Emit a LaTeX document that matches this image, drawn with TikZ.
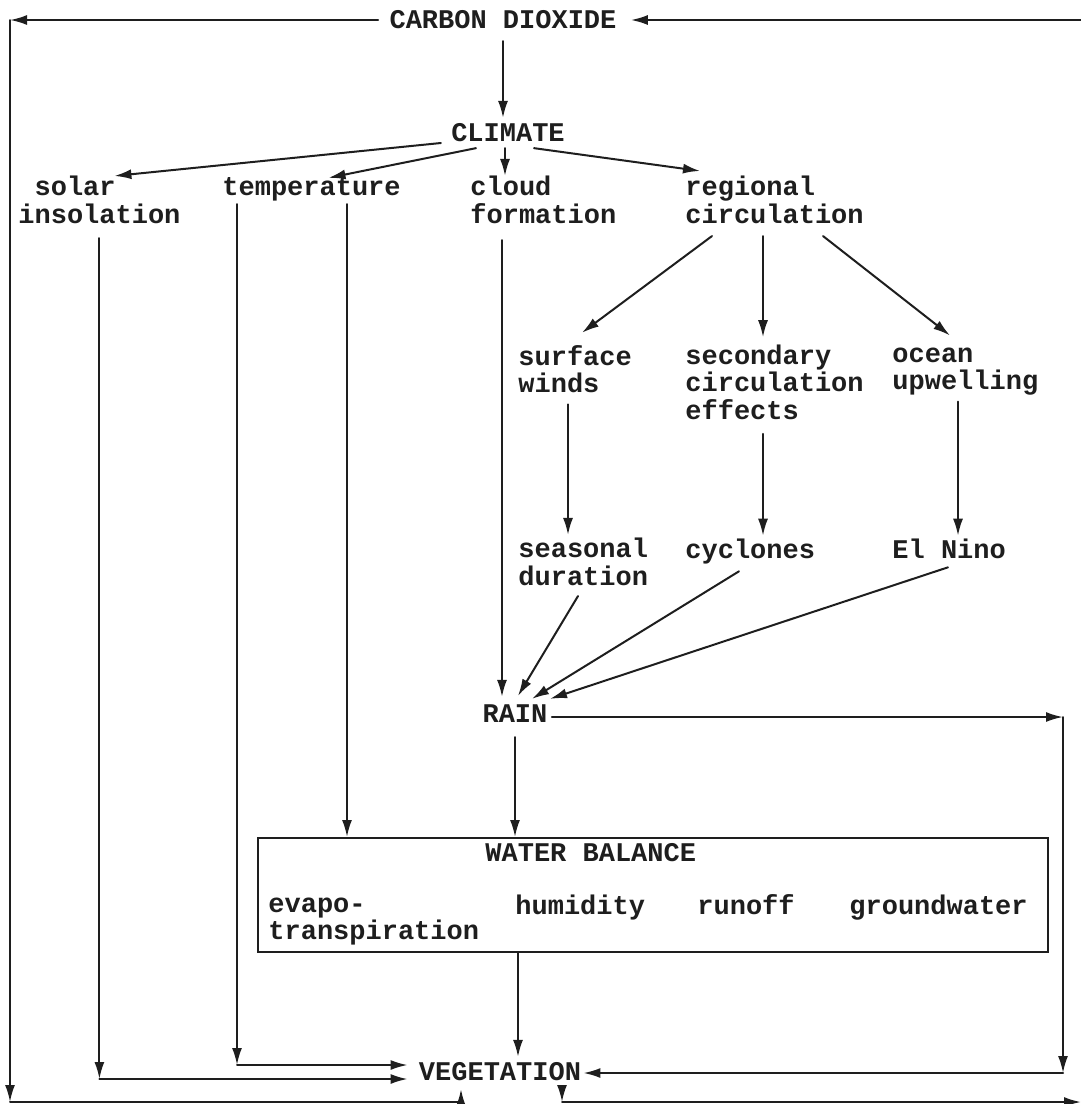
\documentclass[tikz,border=0pt]{standalone}
\usepackage{fontspec}
\usepackage{tikz}
\usetikzlibrary{calc,arrows.meta}
\newfontfamily\typew{Liberation Mono}
\definecolor{ink}{HTML}{1E1E1E}
\newcommand\labfont{\typew\bfseries\fontsize{13.5pt}{13.75pt}\selectfont}
\tikzset{
  lab/.style={text=ink, font=\labfont, inner sep=0pt,
    execute at begin node=\strut, execute at end node=\strut},
  labl/.style={lab, align=left, anchor=west},
  link/.style={draw=ink, line width=1pt, line cap=round, line join=round},
  flow/.style={link, -{Latex[length=8.5pt,width=5pt]}},
  frame/.style={draw=ink, line width=1pt, minimum width=395pt, minimum height=57pt, inner sep=0pt},
}

\begin{document}
\begin{tikzpicture}[x=0.5pt, y=-0.5pt]
  \useasboundingbox (0,0) rectangle (1081,1104);
  % labels
  \node[lab] (co2) at (503,23) {CARBON DIOXIDE};
  \node[lab] (climate) at (508,136) {CLIMATE};
  \node[labl] (solar) at (18,204) {\phantom{s}solar\\insolation};
  \node[labl] (temp) at (222,190) {temperature};
  \node[labl] (cloud) at (470,204) {cloud\\formation};
  \node[labl] (regional) at (685,204) {regional\\circulation};
  \node[labl] (surface) at (518,373) {surface\\winds};
  \node[labl] (secondary) at (685,386) {secondary\\circulation\\effects};
  \node[labl] (ocean) at (892,373) {ocean\\upwelling};
  \node[labl] (seasonal) at (518,566) {seasonal\\duration};
  \node[labl] (cyclones) at (685,553) {cyclones};
  \node[labl] (elnino) at (892,553) {El Nino};
  \node[lab] (rain) at (515,717) {RAIN};
  \node[frame] (wb) at (653,895) {};
  \node[labl] (wbtitle) at (485,856) {WATER BALANCE};
  \node[labl] (evapo) at (268,923) {evapo-\\transpiration};
  \node[labl] (humid) at (515,909) {humidity};
  \node[labl] (runoff) at (697,909) {runoff};
  \node[labl] (ground) at (849,909) {groundwater};
  \node[lab] (veg) at (500,1075) {VEGETATION};

  % corners
  \coordinate (cnw) at (10,20);
  \coordinate (csw) at (10,1102);
  \coordinate (cne) at (1081,20);
  \coordinate (cse) at (1081,1102);
  \coordinate (rse) at (1063,1073);
  \coordinate (rne) at (rain.east -| rse);
  \coordinate (tc) at (237,1065);
  \coordinate (sc) at (99,1079);

  % climate tree
  \draw[flow, shorten <=2pt, shorten >=2pt] (co2.south) -- (co2.south |- climate.north);
  \draw[flow] ([xshift=-5pt,yshift=-3.5pt]climate.west) -- ([xshift=7.5pt]solar.north);
  \draw[flow] ([xshift=-16pt,yshift=1pt]climate.south) -- ([xshift=8.5pt,yshift=-1pt]temp.north);
  \draw[flow] ([xshift=-1.5pt,yshift=1pt]climate.south) -- ([xshift=17.5pt]cloud.north west);
  \draw[flow] ([xshift=13pt,yshift=1pt]climate.south) -- ([xshift=7.5pt,yshift=2.5pt]regional.north west);
  \draw[flow] ([xshift=13.5pt,yshift=-2pt]regional.south west) -- ([xshift=32pt,yshift=6pt]surface.north west);
  \draw[flow] ([xshift=39pt,yshift=-2pt]regional.south west) -- ([xshift=39pt,yshift=3.5pt]secondary.north west);
  \draw[flow] ([xshift=-20.5pt,yshift=-2pt]regional.south east) -- ([xshift=29pt,yshift=6pt]ocean.north west);
  \foreach \a/\b/\s/\d in {surface/seasonal/25pt/-1.5pt, secondary/cyclones/39pt/-3pt, ocean/elnino/33pt/-1.5pt}
    \draw[flow] ([xshift=\s,yshift=\d]\a.south west) -- ([xshift=\s,yshift=1.5pt]\b.north west);

  % into rain
  \coordinate (rA) at ($(rain.north)+(-13,-6)$);
  \coordinate (rB) at ($(rain.north)+(3,-7)$);
  \coordinate (rC) at ($(rain.north)+(17,-4)$);
  \coordinate (rD) at ($(rain.north)+(35,-4)$);
  \draw[flow] ([xshift=16pt,yshift=-4pt]cloud.south west) -- (rA);
  \draw[flow] ([xshift=30pt,yshift=-1pt]seasonal.south west) -- (rB);
  \draw[flow] ([xshift=27pt,yshift=-2pt]cyclones.south west) -- (rC);
  \draw[flow] ([xshift=28pt]elnino.south west) -- (rD);

  % rain onwards
  \draw[flow, shorten <=3pt] (rain.south) -- (rain.south |- wb.north);
  \draw[flow, shorten <=2pt] (rain.east) -- (rne);
  \draw[flow] (rne) -- (rse);
  \draw[flow, shorten >=1pt] (rse) -- (veg.east |- rse);

  % temperature and solar
  \coordinate (t1) at ([xshift=7.5pt]temp.south west);
  \coordinate (t2) at ([xshift=62.5pt]temp.south west);
  \draw[flow] (t1) -- (t1 |- tc);
  \draw[flow, shorten >=5.5pt] (t1 |- tc) -- (tc -| veg.west);
  \draw[flow] (t2) -- (t2 |- wb.north);
  \coordinate (s1) at ([yshift=-3pt]solar.south);
  \draw[flow] (s1) -- (s1 |- sc);
  \draw[flow, shorten >=5.5pt] (s1 |- sc) -- (sc -| veg.west);

  % water balance to vegetation
  \coordinate (w1) at ([xshift=9pt]veg.north);
  \draw[flow, shorten >=2pt] (w1 |- wb.south) -- (w1);

  % carbon dioxide loop
  \coordinate (vfoot) at ([xshift=-19.5pt]veg.south);
  \coordinate (vout) at ([xshift=31pt,yshift=-2pt]veg.south);
  \draw[flow, shorten <=5.5pt] (co2.west |- cnw) -- (cnw);
  \draw[flow] (cnw) -- (csw);
  \draw[flow] (csw) -- (vfoot |- csw) -- (vfoot);
  \draw[flow] (vout) -- (vout |- cse);
  \draw[flow] (vout |- cse) -- (cse);
  \draw[flow] (cne) -- ([xshift=7pt]co2.east |- cne);
\end{tikzpicture}
\end{document}
